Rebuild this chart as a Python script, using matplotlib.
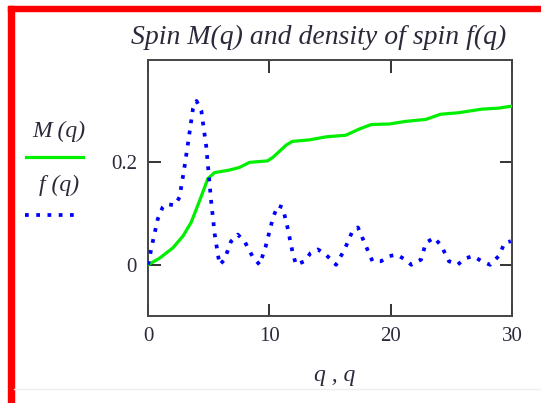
import numpy as np
import matplotlib
matplotlib.use("Agg")
import matplotlib.pyplot as plt
from matplotlib.lines import Line2D

# === Data ===
q_m = [0, 0.96, 2.05, 2.88, 3.56, 4.25, 4.93, 5.48, 6.7, 7.53, 8.36, 9.86, 10.3,
       11.4, 11.9, 13.3, 14.7, 16.3, 17.4, 18.4, 19.9, 21.2, 22.9, 24.1, 25.6,
       27.5, 28.9, 30.0]
m_vals = [0, 0.013, 0.033, 0.056, 0.083, 0.125, 0.168, 0.18, 0.185, 0.19, 0.2,
          0.203, 0.21, 0.234, 0.241, 0.244, 0.25, 0.253, 0.265, 0.274, 0.275,
          0.28, 0.284, 0.294, 0.297, 0.304, 0.306, 0.31]

q_f = [0, 0.4, 0.8, 1.2, 1.5, 2.2, 2.6, 3.0, 3.3, 3.7, 4.0, 4.4, 4.8, 5.2, 5.5,
       5.9, 6.3, 6.85, 7.4, 7.95, 8.6, 9.2, 9.7, 10.3, 10.7, 11.1, 11.5, 11.9,
       12.2, 12.9, 13.4, 14.0, 14.5, 15.1, 15.5, 16.2, 16.8, 17.3, 17.9, 18.5,
       19.2, 19.9, 20.5, 21.2, 21.7, 22.5, 22.9, 23.6, 24.2, 24.8, 25.5, 26.2,
       26.8, 27.5, 28.2, 28.9, 29.4, 29.9]
f_vals = [0, 0.046, 0.089, 0.112, 0.119, 0.116, 0.132, 0.19, 0.238, 0.304, 0.32,
          0.3, 0.231, 0.125, 0.059, 0.0, 0.01, 0.046, 0.059, 0.046, 0.017, 0.0,
          0.036, 0.092, 0.116, 0.112, 0.073, 0.026, 0.0, 0.007, 0.023, 0.03,
          0.023, 0.01, 0.0, 0.03, 0.063, 0.073, 0.04, 0.007, 0.007, 0.017, 0.02,
          0.01, 0.0, 0.01, 0.043, 0.053, 0.036, 0.007, 0.0, 0.013, 0.017, 0.007,
          0.0, 0.017, 0.043, 0.046]

x_ticks = [0, 10, 20, 30]
y_ticks = [0, 0.2]
y_tick_labels = ["0", "0.2"]

W, H = 541, 403
fig = plt.figure(figsize=(W / 100, H / 100), dpi=100)
serif = "Liberation Serif"
txt_col = "#2a2a3a"
green = "#00ee00"
blue = "#0000ff"
dots = (0, (1, 2))

ax = fig.add_axes([148 / W, 1 - 316 / H, (512 - 148) / W, (316 - 60) / H])
ax.plot(q_m, m_vals, color=green, lw=2.3, solid_capstyle="round", zorder=3)
ax.plot(q_f, f_vals, color=blue, lw=2.7, linestyle=dots,
        dash_capstyle="butt", zorder=4)

ax.set_xlim(0, 30)
ax.set_ylim(-0.1, 0.4)
ax.set_xticks(x_ticks)
ax.set_yticks(y_ticks)
ax.set_yticklabels(y_tick_labels)
ax.tick_params(direction="in", length=9, width=1.4, color="#333333",
               top=True, right=True, labelsize=15, labelcolor=txt_col, pad=8)
for lab in ax.get_xticklabels() + ax.get_yticklabels():
    lab.set_fontfamily(serif)
for s in ax.spines.values():
    s.set_color("#444444")
    s.set_linewidth(1.4)

# title and axis label
fig.text(319 / W, 1 - 37 / H, "Spin M(q) and density of spin f(q)",
         family=serif, style="italic", fontsize=20, color=txt_col,
         ha="center", va="center")
fig.text(335 / W, 1 - 376 / H, "q , q", family=serif, style="italic",
         fontsize=17, color=txt_col, ha="center", va="center")

# Mathcad style legend at the left
fig.text(59 / W, 1 - 131 / H, "M (q)", family=serif, style="italic",
         fontsize=17, color=txt_col, ha="center", va="center")
fig.add_artist(Line2D([26 / W, 83 / W], [1 - 157 / H, 1 - 157 / H],
                      color=green, lw=2.3))
fig.text(59 / W, 1 - 185 / H, "f (q)", family=serif, style="italic",
         fontsize=17, color=txt_col, ha="center", va="center")
fig.add_artist(Line2D([25 / W, 76 / W], [1 - 215 / H, 1 - 215 / H],
                      color=blue, lw=2.7, linestyle=dots))

# red frame and light separator
fig.add_artist(plt.Rectangle((8 / W, 0), 6 / W, 1 - 6 / H, color="#ff0000",
                             transform=fig.transFigure))
fig.add_artist(plt.Rectangle((8 / W, 1 - 11 / H), 1, 5 / H, color="#ff0000",
                             transform=fig.transFigure))
fig.add_artist(Line2D([14 / W, 1], [1 - 389 / H, 1 - 389 / H],
                      color="#eeeeee", lw=1))

fig.savefig("out.png", dpi=100)
